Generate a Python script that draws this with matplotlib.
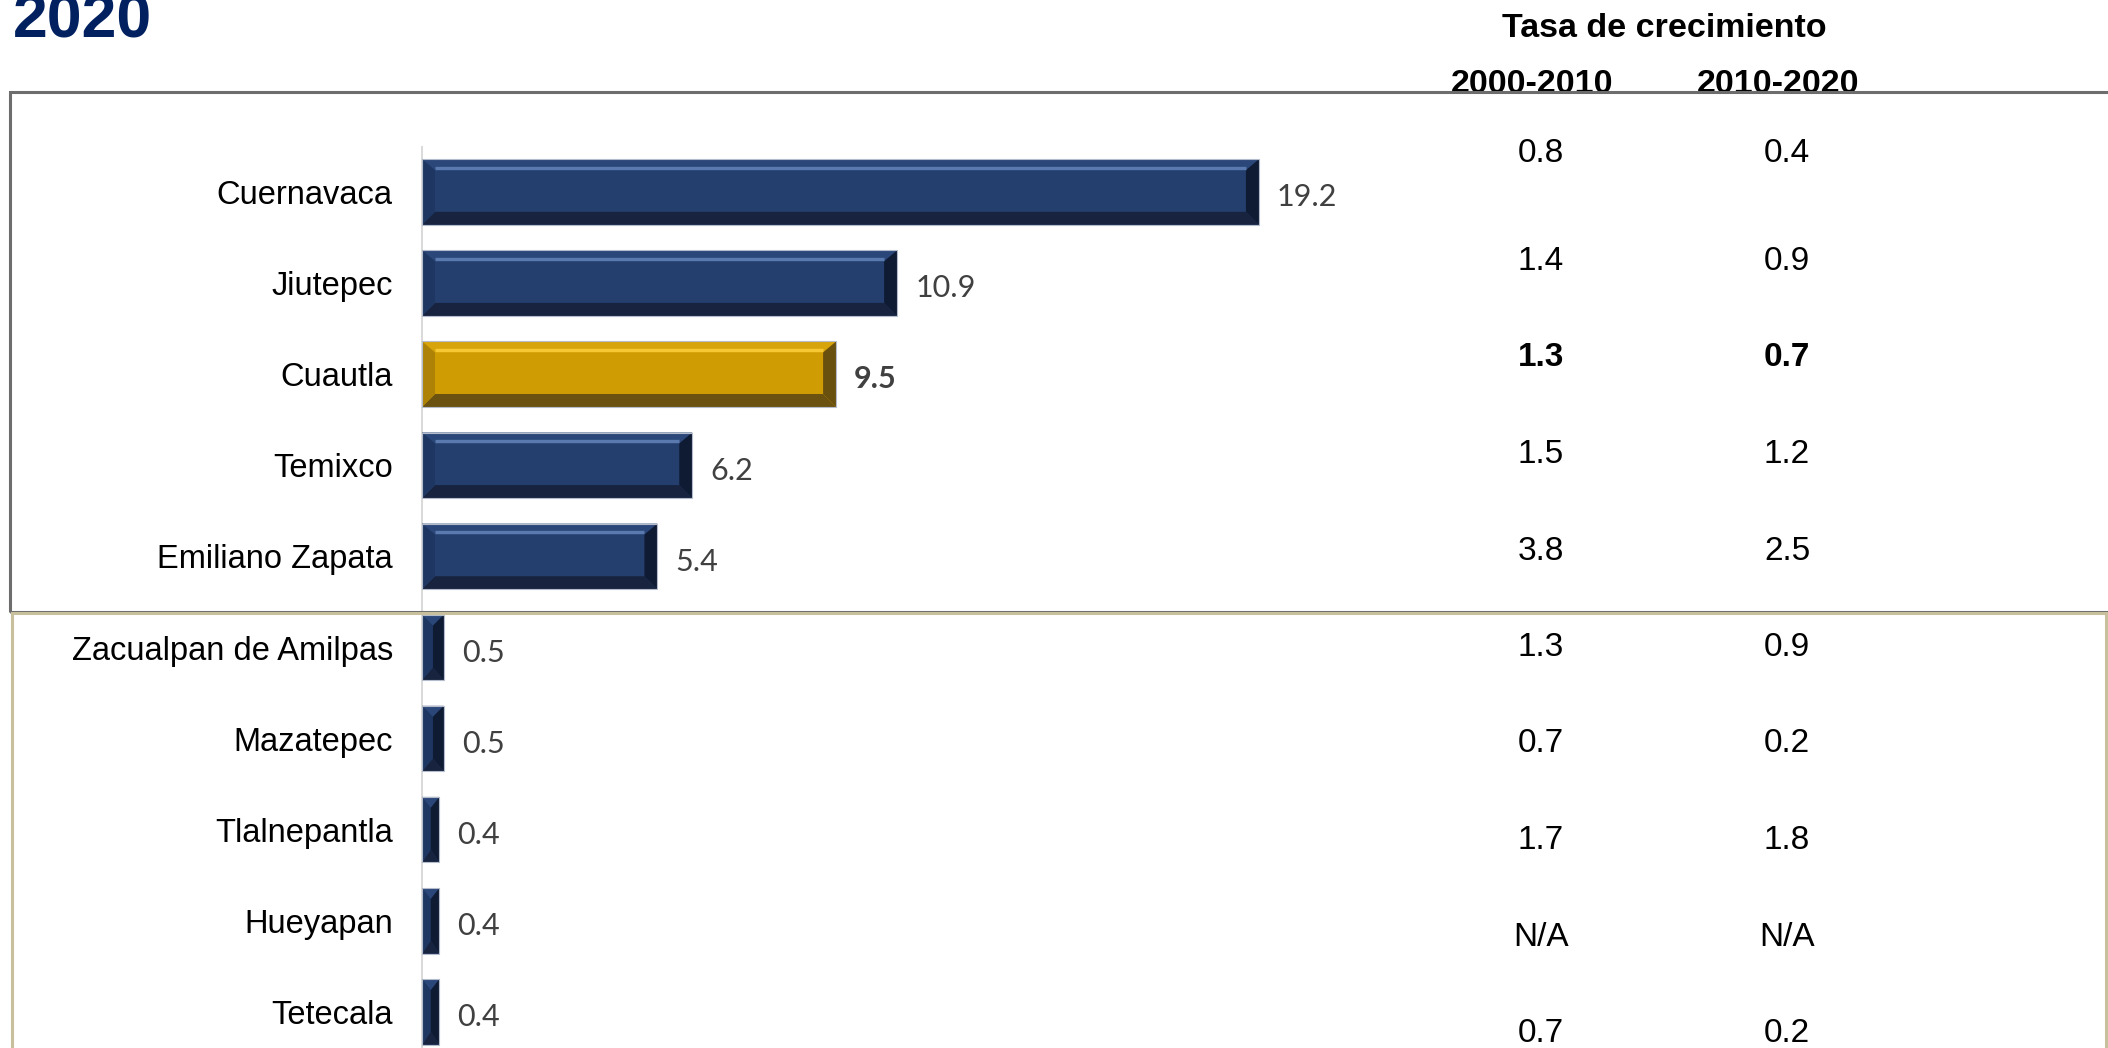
from __future__ import annotations

import matplotlib

matplotlib.use("Agg")
import matplotlib.pyplot as plt
from matplotlib.patches import Polygon, Rectangle

FIG_W, FIG_H = 2108, 1048

TITULO = "2020"
ENCABEZADO = "Tasa de crecimiento"
PERIODOS = ["2000-2010", "2010-2020"]

MUNICIPIOS = [
    "Cuernavaca",
    "Jiutepec",
    "Cuautla",
    "Temixco",
    "Emiliano Zapata",
    "Zacualpan de Amilpas",
    "Mazatepec",
    "Tlalnepantla",
    "Hueyapan",
    "Tetecala",
]
PORCENTAJE = [19.2, 10.9, 9.5, 6.2, 5.4, 0.5, 0.5, 0.4, 0.4, 0.4]
TASA_2000_2010 = ["0.8", "1.4", "1.3", "1.5", "3.8", "1.3", "0.7", "1.7", "N/A", "0.7"]
TASA_2010_2020 = ["0.4", "0.9", "0.7", "1.2", "2.5", "0.9", "0.2", "1.8", "N/A", "0.2"]
DESTACADO = "Cuautla"

NAVY = {
    "face": "#243f6e",
    "top": "#2b4779",
    "highlight": "#6282b9",
    "bottom": "#18243f",
    "left": "#1e3762",
    "right": "#0f1a33",
}
GOLD = {
    "face": "#d09c04",
    "top": "#d8a40c",
    "highlight": "#fccf3a",
    "bottom": "#6b5210",
    "left": "#ad8207",
    "right": "#6a500e",
}

ARIAL = "Liberation Sans"
CALIBRI = "Lato"


def fx(px: float) -> float:
    return px / FIG_W


def fy(px: float) -> float:
    return 1 - px / FIG_H


def draw_bevel(ax, bar, colors: dict[str, str]) -> None:
    # Office style bevel drawn over each bar, sized in pixels
    sx = abs(ax.transData.transform((1, 0))[0] - ax.transData.transform((0, 0))[0])
    sy = abs(ax.transData.transform((0, 1))[1] - ax.transData.transform((0, 0))[1])
    x0, w = bar.get_x(), bar.get_width()
    top, h = bar.get_y(), bar.get_height()
    bot = top + h
    x1 = x0 + w
    bx = min(13 / sx, w / 2)
    bt = 11 / sy
    bb = 13 / sy

    polys = [
        ([(x0, top), (x1, top), (x1 - bx, top + bt), (x0 + bx, top + bt)], colors["top"]),
        ([(x0, bot), (x1, bot), (x1 - bx, bot - bb), (x0 + bx, bot - bb)], colors["bottom"]),
        ([(x0, top), (x0 + bx, top + bt), (x0 + bx, bot - bb), (x0, bot)], colors["left"]),
        ([(x1, top), (x1 - bx, top + bt), (x1 - bx, bot - bb), (x1, bot)], colors["right"]),
    ]
    for pts, c in polys:
        ax.add_patch(Polygon(pts, closed=True, facecolor=c, edgecolor="none", zorder=3))
    if w - 2 * bx > 0:
        ax.plot([x0 + bx, x1 - bx], [top + bt * 0.8, top + bt * 0.8],
                color=colors["highlight"], lw=2.4, solid_capstyle="butt",
                alpha=0.85, zorder=3.5)
    ax.add_patch(Rectangle((x0, top), w, h, fill=False, edgecolor="#b4bccb",
                           lw=0.8, zorder=4))


def draw_boxes(fig) -> None:
    gray = Rectangle((fx(10), fy(612)), fx(2140 - 10), fy(92) - fy(612),
                     transform=fig.transFigure, fill=False, edgecolor="#6d6d6d",
                     lw=2.2, zorder=5)
    beige = Rectangle((fx(12), fy(1080)), fx(2106 - 12), fy(613) - fy(1080),
                      transform=fig.transFigure, fill=False, edgecolor="#c8bf9c",
                      lw=2.2, zorder=6)
    fig.patches.extend([gray, beige])


def draw_table(fig) -> None:
    fig.text(fx(1664), fy(37), ENCABEZADO, ha="center", va="baseline",
             fontsize=24.5, fontweight="bold", family=ARIAL)
    for cx, label in zip([1532, 1778], PERIODOS):
        fig.text(fx(cx), fy(93), label, ha="center", va="baseline",
                 fontsize=24.5, fontweight="bold", family=ARIAL)

    row_y = [150] + [258 + 96.5 * k for k in range(len(MUNICIPIOS) - 1)]
    for name, y, a, b in zip(MUNICIPIOS, row_y, TASA_2000_2010, TASA_2010_2020):
        weight = "bold" if name == DESTACADO else "normal"
        fig.text(fx(1541), fy(y), a, ha="center", va="center_baseline", fontsize=24,
                 fontweight=weight, family=ARIAL)
        fig.text(fx(1787), fy(y), b, ha="center", va="center_baseline", fontsize=24,
                 fontweight=weight, family=ARIAL)


def main() -> None:
    fig = plt.figure(figsize=(FIG_W / 100, FIG_H / 100), dpi=100)
    fig.patch.set_facecolor("white")

    left, right = 422, 1400
    top = 147
    ax = fig.add_axes([fx(left), 0, fx(right - left), fy(top)])
    ax.patch.set_visible(False)

    px_per_unit = 43.59
    pitch = 91.1
    n = len(MUNICIPIOS)
    ax.set_xlim(0, (right - left) / px_per_unit)
    ax.set_ylim((FIG_H - 192) / pitch, -(192 - top) / pitch)

    colors = [GOLD if m == DESTACADO else NAVY for m in MUNICIPIOS]
    bars = ax.barh(range(n), PORCENTAJE, height=0.72,
                   color=[c["face"] for c in colors], edgecolor="none", zorder=2)
    for bar, c in zip(bars, colors):
        draw_bevel(ax, bar, c)

    for i, (name, v) in enumerate(zip(MUNICIPIOS, PORCENTAJE)):
        ax.annotate(f"{v}", xy=(v, i), xytext=(13, -2), textcoords="offset points",
                    ha="left", va="center_baseline", fontsize=22, family=CALIBRI,
                    color="#404040",
                    fontweight="bold" if name == DESTACADO else "normal")

    ax.set_yticks(range(n))
    ax.set_yticklabels(MUNICIPIOS, fontsize=23.5, family=ARIAL, color="black")
    ax.tick_params(axis="y", length=0, pad=21)
    ax.set_xticks([])
    for side in ["top", "right", "bottom"]:
        ax.spines[side].set_visible(False)
    ax.spines["left"].set_color("#d9d9d9")
    ax.spines["left"].set_linewidth(1.4)

    # the title is clipped at the top edge in the original too
    fig.text(fx(13), fy(37), TITULO, ha="left", va="baseline", fontsize=45,
             fontweight="bold", family=ARIAL, color="#002060")

    draw_table(fig)
    draw_boxes(fig)

    fig.savefig("out.png", dpi=100)
    plt.close(fig)


if __name__ == "__main__":
    main()
